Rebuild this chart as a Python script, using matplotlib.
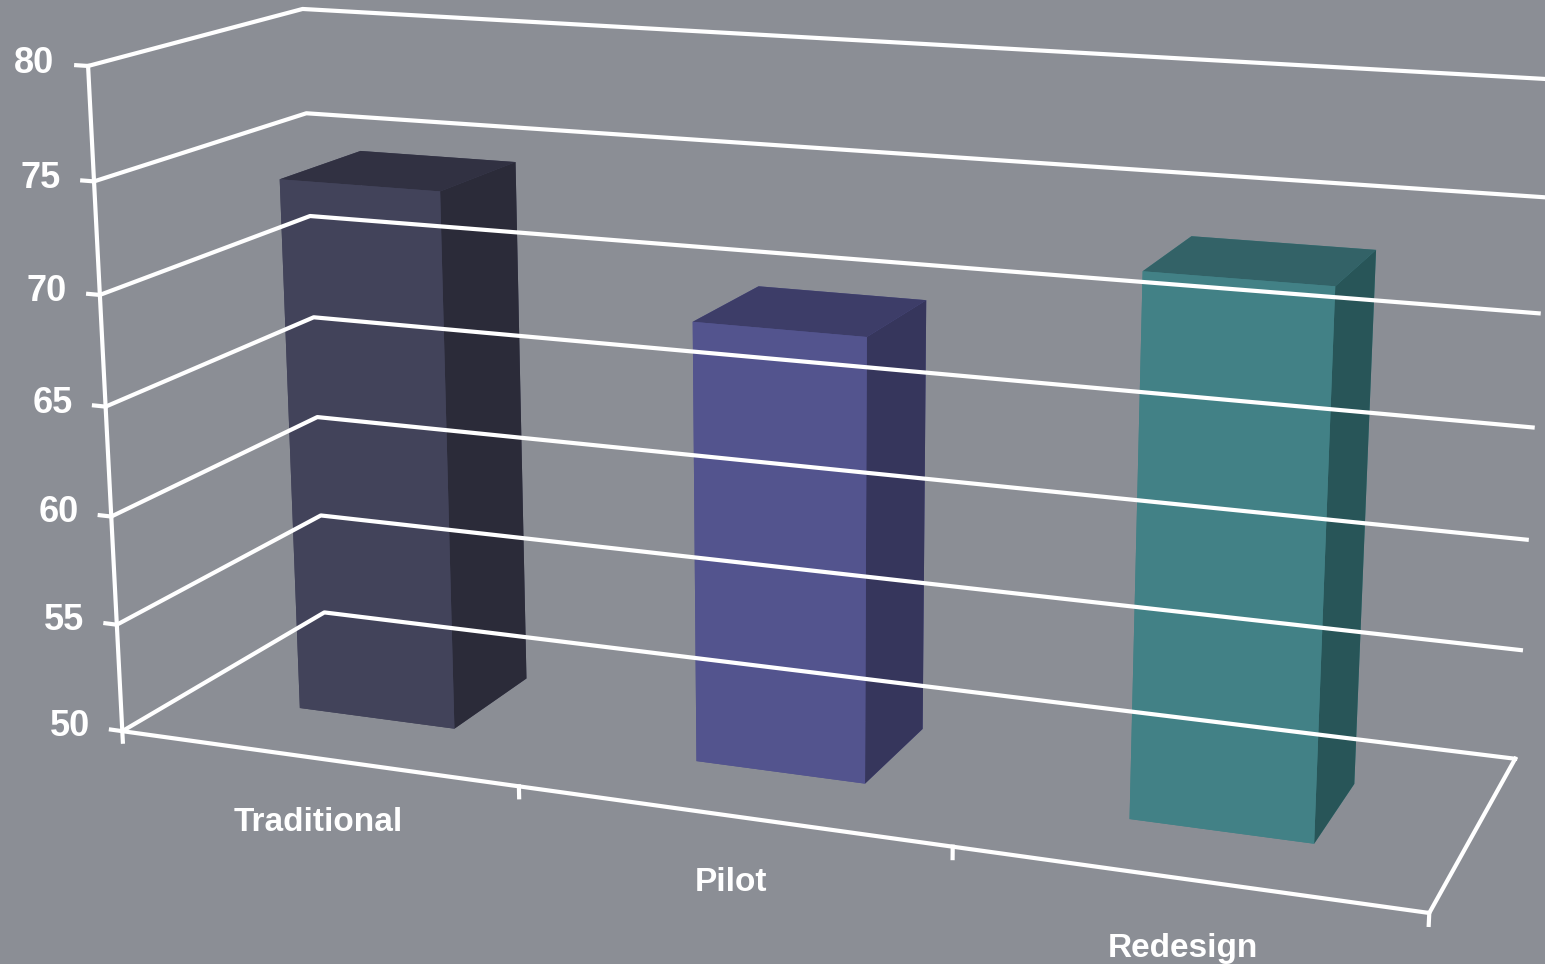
import numpy as np
import matplotlib.pyplot as plt

categories = ['Traditional', 'Pilot', 'Redesign']
scores = [74.5, 69.7, 73.4]
front_colors = ['#42435a', '#53548e', '#428186']
side_colors = ['#2b2b39', '#36365c', '#285558']
top_colors = ['#313142', '#3d3d68', '#336267']
z_ticks = [50, 55, 60, 65, 70, 75, 80]

bg = '#8b8e95'
plt.rcParams['font.family'] = ['Liberation Sans', 'DejaVu Sans']

fig = plt.figure(figsize=(15.45, 9.64), dpi=100, facecolor=bg)
ax = fig.add_axes([0.0165, 0.054, 1, 1], projection='3d', facecolor=bg)
ax.set_proj_type('persp', focal_length=0.68)
ax.view_init(elev=14.5, azim=-69)
ax.set_box_aspect((3.14, 1.0, 1.6), zoom=1.6)
ax.set_axis_off()
ax.computed_zorder = False
ax.patch.set_visible(False)

x0, x1 = -0.5, 2.5
y0, y1 = 0.0, 1.0
zmin = 50
lw = 3
line_kw = dict(color='white', lw=lw, clip_on=False, solid_capstyle='projecting')

# walls: gridlines on left wall and back wall
for z in z_ticks:
    ax.plot([x0, x0, x1], [y0, y1, y1], [z, z, z], **line_kw)

# bars
bw, bd = 0.4, 0.4
for i, v in enumerate(scores):
    # face order: bottom, top, front, back, left, right
    cols = [front_colors[i], top_colors[i], front_colors[i],
            front_colors[i], front_colors[i], side_colors[i]]
    ax.bar3d(i - bw / 2, 0.5 - bd / 2, zmin, bw, bd, v - zmin,
             color=cols, shade=False, linewidth=0.5, clip_on=False)

# floor front + right edge
ax.plot([x0, x1, x1], [y0, y0, y1], [zmin, zmin, zmin], **line_kw)
# vertical axis on front-left
ax.plot([x0, x0], [y0, y0], [zmin - 0.5, 80], **line_kw)
for z in z_ticks:
    ax.plot([x0 - 0.03, x0], [y0, y0], [z, z], **line_kw)
    ax.text(x0 - 0.085, y0, z, str(z), ha='right', va='center',
            color='white', fontsize=26, fontweight='bold')
for xb in [0.5, 1.5, 2.5]:
    ax.plot([xb, xb], [y0, y0], [zmin - 0.5, zmin], **line_kw)
for i, c in enumerate(categories):
    ax.text(i, y0, zmin - 3.0, c, ha='center', va='center',
            color='white', fontsize=24, fontweight='bold')

ax.set_xlim(x0, x1)
ax.set_ylim(y0, y1)
ax.set_zlim(50, 80)

fig.savefig('out.png', dpi=100, facecolor=bg)
